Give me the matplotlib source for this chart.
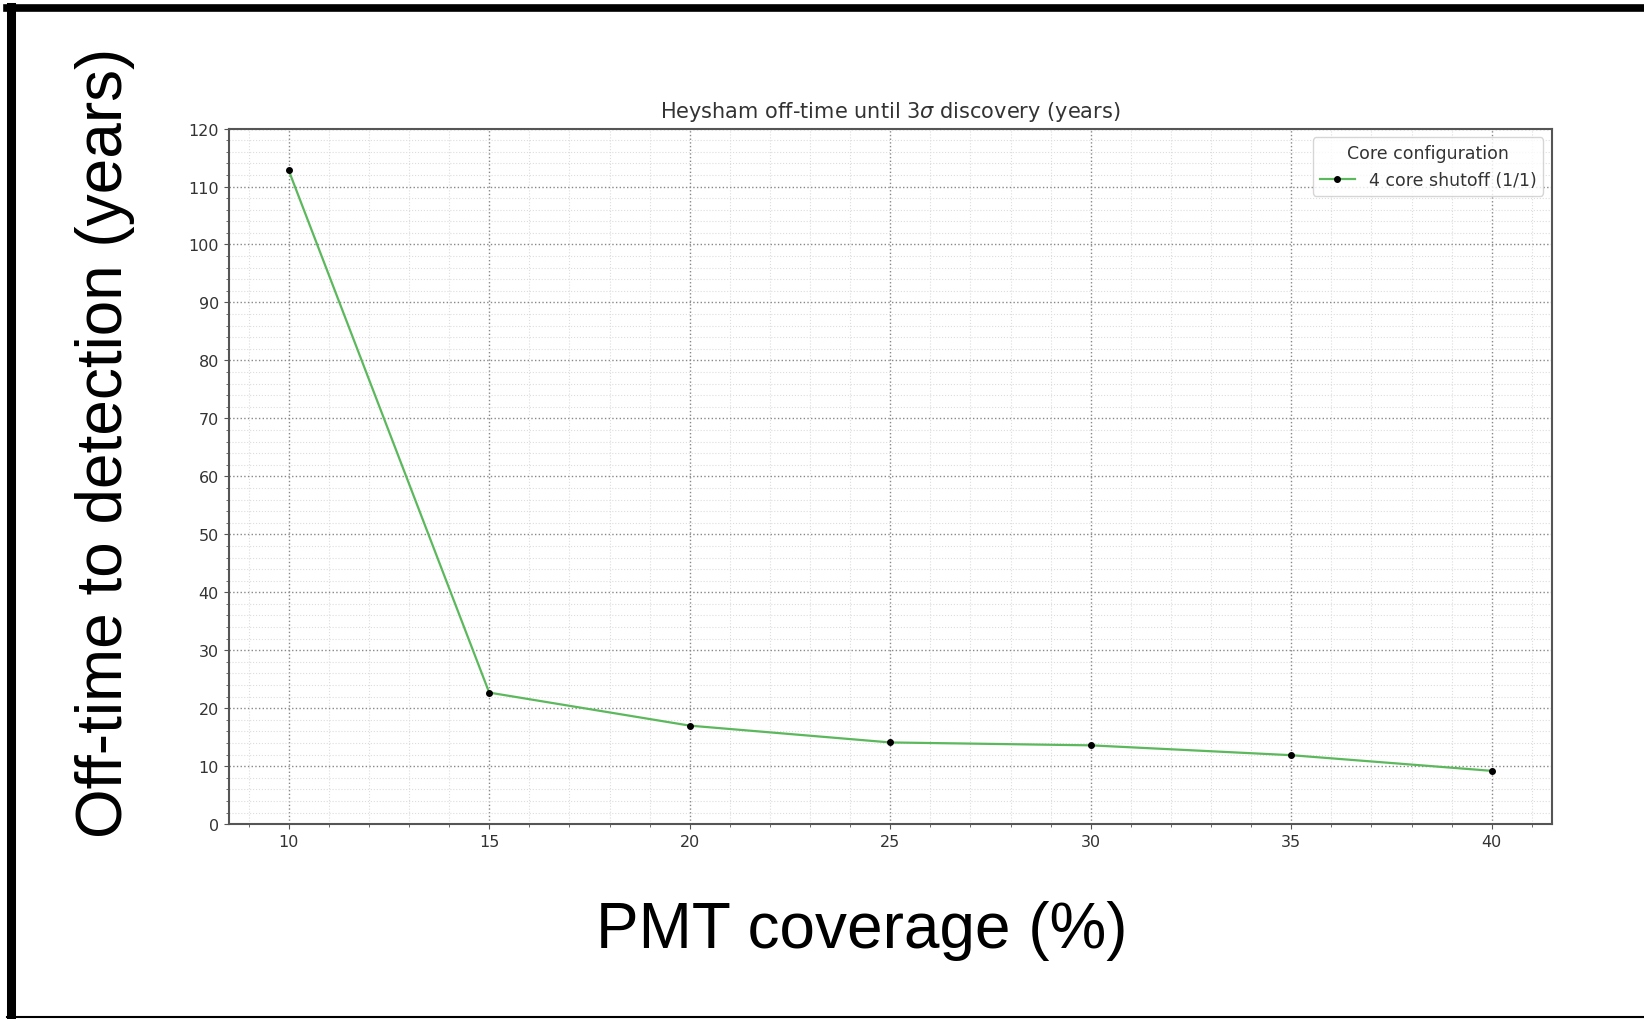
import matplotlib
matplotlib.use('Agg')
import matplotlib.pyplot as plt
from matplotlib.ticker import AutoMinorLocator, MultipleLocator
from matplotlib.lines import Line2D

# PMT coverage (%) vs off-time until 3 sigma discovery (years)
coverage = [10, 15, 20, 25, 30, 35, 40]
offtime = [112.8, 22.7, 17.0, 14.1, 13.6, 11.9, 9.2]
series_label = "4 core shutoff (1/1)"

fig = plt.figure(figsize=(16.44, 10.2), dpi=100)
ax = fig.add_axes([0.139, 0.191, 0.805, 0.682])

txtcol = '#333333'
ax.plot(coverage, offtime, color='#5cb85c', linewidth=1.6,
        marker='o', markersize=4, markerfacecolor='k', markeredgecolor='k',
        label=series_label)

ax.set_xlim(8.5, 41.5)
ax.set_ylim(0, 120)
ax.xaxis.set_major_locator(MultipleLocator(5))
ax.yaxis.set_major_locator(MultipleLocator(10))
ax.xaxis.set_minor_locator(AutoMinorLocator())
ax.yaxis.set_minor_locator(AutoMinorLocator())

ax.grid(which='major', color='#888888', linestyle=':', linewidth=1.0)
ax.grid(which='minor', color='#dddddd', linestyle=':', linewidth=0.8)
ax.tick_params(which='both', colors='#555555', labelcolor=txtcol, labelsize=11.5)
for s in ax.spines.values():
    s.set_color('#555555')
    s.set_linewidth(1.5)

ax.set_title("Heysham off-time until 3$\\sigma$ discovery (years)",
             fontsize=15, color=txtcol, pad=8)
leg = ax.legend(title="Core configuration", loc='upper right',
                fontsize=12.5, title_fontsize=12.5, framealpha=0.8)
for t in leg.get_texts():
    t.set_color(txtcol)
leg.get_title().set_color(txtcol)

# large labels added around the embedded plot
fig.text(0.064, 0.566, "Off-time to detection (years)", rotation=90,
         ha='center', va='center', fontsize=46, family='Liberation Sans')
fig.text(0.524, 0.087, "PMT coverage (%)", ha='center', va='center',
         fontsize=46, family='Liberation Sans')

# black frame (left, top, bottom)
fig.add_artist(Line2D([0.0065, 0.0065], [0.0, 0.992], color='k', linewidth=6.5,
                      transform=fig.transFigure))
fig.add_artist(Line2D([0.004, 1.0], [0.991, 0.991], color='k', linewidth=5.5,
                      transform=fig.transFigure))
fig.add_artist(Line2D([0.004, 1.0], [0.0015, 0.0015], color='k', linewidth=1.5,
                      transform=fig.transFigure))

fig.savefig('out.png', dpi=100)
